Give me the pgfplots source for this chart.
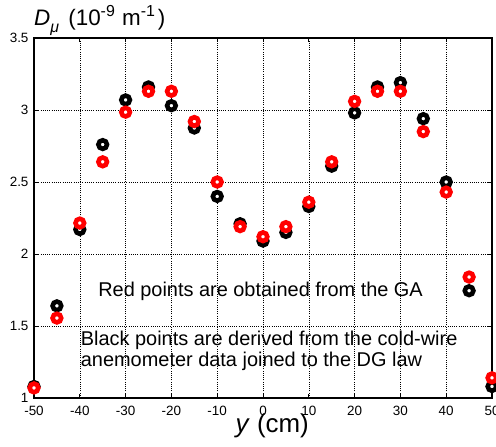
\documentclass[border=0pt]{standalone}
\usepackage{fontspec}
\setmainfont{Liberation Sans}
\usepackage{pgfplots}
\pgfplotsset{compat=1.18}
\usepackage{pgfplotstable}

% y (cm), D_mu from the cold-wire anemometer data + DG law
\pgfplotstableread{
y    D
-50  1.08
-45  1.64
-40  2.17
-35  2.76
-30  3.07
-25  3.16
-20  3.03
-15  2.875
-10  2.40
-5   2.21
0    2.09
5    2.15
10   2.33
15   2.61
20   2.98
25   3.16
30   3.19
35   2.94
40   2.50
45   1.745
50   1.08
}\blackdata

% y (cm), D_mu obtained from the GA
\pgfplotstableread{
y    D
-50  1.07
-45  1.555
-40  2.215
-35  2.64
-30  2.985
-25  3.13
-20  3.13
-15  2.92
-10  2.50
-5   2.19
0    2.12
5    2.19
10   2.36
15   2.64
20   3.06
25   3.13
30   3.13
35   2.85
40   2.43
45   1.84
50   1.14
}\reddata

\newcommand\sups[1]{\raisebox{0.42em}{\fontsize{16}{16}\selectfont #1}}
\newcommand\subs[1]{\raisebox{-0.32em}{\fontsize{16}{16}\selectfont #1}}

\begin{document}
\begin{tikzpicture}
\useasboundingbox (-34bp,-49bp) rectangle (462bp,398bp);
\begin{axis}[
  at={(0,0)}, anchor=south west,
  scale only axis,
  width=458bp, height=360bp,
  xmin=-50, xmax=50, ymin=1, ymax=3.5,
  xtick={-50,-40,...,50},
  ytick={1,1.5,...,3.5},
  clip=false,
  axis line style={line width=1.3bp},
  every tick/.style={black, line width=0.8bp},
  major tick length=4bp,
  tick align=inside,
  grid=major,
  major grid style={black, line width=0.6bp, dash pattern=on 1bp off 1.2bp},
  /pgf/number format/assume math mode=true,
  tick label style={font=\fontsize{13.5}{15}\selectfont},
  xticklabel style={yshift=-5bp},
  yticklabel style={xshift=-2bp},
  yticklabel={\pgfmathprintnumber[fixed]{\tick}},
]
\addplot[only marks, mark=*, mark size=4.3bp,
  mark options={draw=black, fill=white, line width=4.6bp}]
  table[x=y, y=D] {\blackdata};
\addplot[only marks, mark=*, mark size=4.3bp,
  mark options={draw=red, fill=white, line width=4.6bp}]
  table[x=y, y=D] {\reddata};

\node[anchor=base west, inner sep=0pt, font=\fontsize{20}{24}\selectfont]
  at (axis cs:-36,1.703) {Red points are obtained from the GA};
\node[anchor=base west, inner sep=0pt, font=\fontsize{20}{24}\selectfont]
  at (axis cs:-39.8,1.368) {Black points are derived from the cold-wire};
\node[anchor=base west, inner sep=0pt, font=\fontsize{20}{24}\selectfont]
  at (axis cs:-39.8,1.217) {anemometer data joined to the DG law};

\node[anchor=base west, inner sep=0pt, font=\fontsize{22.5}{26}\selectfont]
  at ([xshift=0bp, yshift=12.5bp]rel axis cs:0,1)
  {\textit{D}\subs{\textit{μ}}\hspace{3bp} (10\sups{-9}\hspace{1bp} m\sups{-1}\hspace{3bp})};
\node[anchor=base, inner sep=0pt, font=\fontsize{26}{30}\selectfont]
  at ([yshift=-34.5bp]rel axis cs:0.52,0) {\textit{y} (cm)};
\end{axis}
\end{tikzpicture}
\end{document}
